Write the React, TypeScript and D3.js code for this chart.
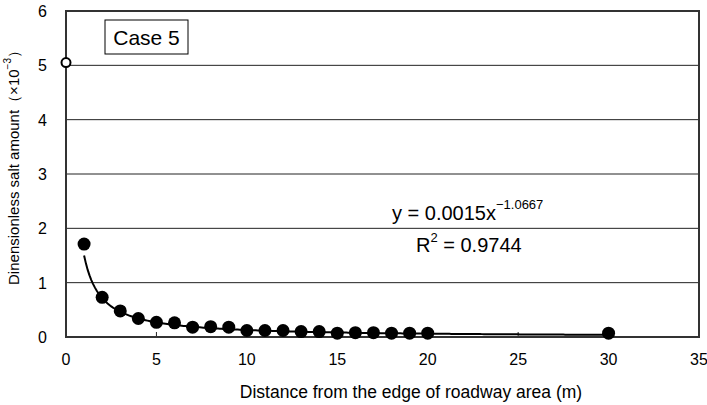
import React from 'react'
import * as d3 from 'd3'

// distance (m) and dimensionless salt amount (x10^-3)
const distances = [1, 2, 3, 4, 5, 6, 7, 8, 9, 10, 11, 12, 13, 14, 15, 16, 17, 18, 19, 20, 30]
const saltAmounts = [1.71, 0.73, 0.48, 0.34, 0.27, 0.26, 0.18, 0.19, 0.18, 0.12, 0.12, 0.12, 0.1, 0.1, 0.07, 0.08, 0.08, 0.07, 0.07, 0.07, 0.07]
const edgePoint = { x: 0, y: 5.05 }
const xTicks = [0, 5, 10, 15, 20, 25, 30, 35]
const yTicks = [0, 1, 2, 3, 4, 5, 6]
const fitCoef = 1.5 // 0.0015 in x10^-3 units
const fitExp = -1.0667

const W = 707
const H = 405
const margin = { top: 11, right: 8, bottom: 68, left: 66 }
const font = 'Arial, "Liberation Sans", sans-serif'

const App = () => {
  const x = d3.scaleLinear().domain([0, 35]).range([margin.left, W - margin.right])
  const y = d3.scaleLinear().domain([0, 6]).range([H - margin.bottom, margin.top])

  const fitXs = d3.range(1, 30.01, 0.1)
  const fitLine = d3
    .line<number>()
    .x((d) => x(d))
    .y((d) => y(fitCoef * Math.pow(d, fitExp)))

  const pts = distances.map((d, i) => ({ x: d, y: saltAmounts[i] }))

  return (
    <svg width={W} height={H} style={{ position: 'absolute', left: 0, top: 0 }} fontFamily={font}>
      <rect width={W} height={H} fill="white" />
      {yTicks.slice(1, -1).map((t) => (
        <line key={t} x1={x(0)} x2={x(35)} y1={y(t)} y2={y(t)} stroke="#222" strokeWidth={1} />
      ))}
      {xTicks.slice(1, -1).map((t) => (
        <line key={t} x1={x(t)} x2={x(t)} y1={y(0)} y2={y(0) - 5} stroke="#222" strokeWidth={1} />
      ))}
      <path d={fitLine(fitXs) ?? ''} fill="none" stroke="black" strokeWidth={2} />
      <rect
        x={x(0)}
        y={y(6)}
        width={x(35) - x(0)}
        height={y(0) - y(6)}
        fill="none"
        stroke="#333"
        strokeWidth={2}
      />
      {pts.map((p, i) => (
        <circle key={i} cx={x(p.x)} cy={y(p.y)} r={6.5} fill="black" />
      ))}
      <circle cx={x(edgePoint.x)} cy={y(edgePoint.y)} r={4.5} fill="white" stroke="black" strokeWidth={2} />

      {yTicks.map((t) => (
        <text key={t} x={47} y={y(t) + 6} textAnchor="end" fontSize={16}>
          {t}
        </text>
      ))}
      {xTicks.map((t) => (
        <text key={t} x={x(t)} y={365} textAnchor="middle" fontSize={16}>
          {t}
        </text>
      ))}

      <rect x={105} y={20} width={83} height={34} fill="white" stroke="black" strokeWidth={1} />
      <text x={146.5} y={45} textAnchor="middle" fontSize={21}>
        Case 5
      </text>

      <text x={392} y={220} fontSize={20}>
        y = 0.0015x
        <tspan dy={-11} fontSize={13}>
          −1.0667
        </tspan>
      </text>
      <text x={416} y={252} fontSize={20}>
        R<tspan dy={-10} fontSize={13}>2</tspan>
        <tspan dy={10}> = 0.9744</tspan>
      </text>

      <text x={411} y={398} textAnchor="middle" fontSize={17.5}>
        Distance from the edge of roadway area (m)
      </text>
      <text transform={`translate(19, 164) rotate(-90)`} textAnchor="middle" fontSize={15}>
        Dinensionless salt amount（×10
        <tspan dy={-8} fontSize={10}>
          −3
        </tspan>
        <tspan dy={8}>）</tspan>
      </text>
    </svg>
  )
}

export default App
